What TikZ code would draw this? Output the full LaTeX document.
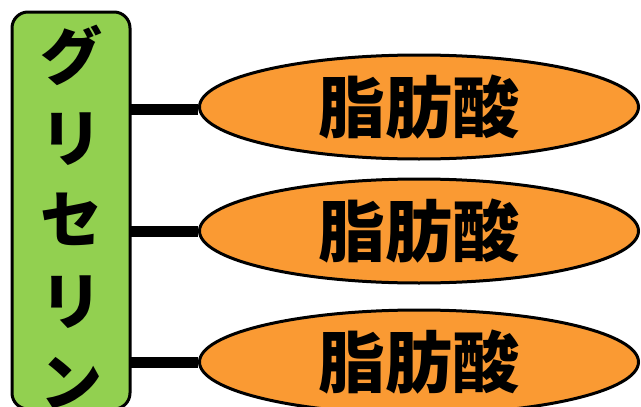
\documentclass[tikz,border=0pt]{standalone}
\usepackage{fontspec}
\newfontfamily\jp{Noto Sans CJK JP}
\usetikzlibrary{shapes.geometric,backgrounds}
\definecolor{glgreen}{RGB}{146,208,80}
\definecolor{faorange}{RGB}{250,154,51}
\tikzset{
  glybox/.style={draw=black, line width=3pt, fill=glgreen, rounded corners=16pt},
  fabox/.style={ellipse, draw=black, line width=3pt, fill=faorange, minimum width=439pt, minimum height=104pt, inner sep=0pt, font=\jp\bfseries\fontsize{67}{67}\selectfont},
  bond/.style={draw=black, line width=11pt}
}
\begin{document}
\begin{tikzpicture}[x=1pt,y=-1pt]
\useasboundingbox (0,0) rectangle (641,407);
\node[fabox] (f1) at (419,107) {脂肪酸};
\node[fabox] (f2) at (419,231) {脂肪酸};
\node[fabox] (f3) at (419,362) {脂肪酸};
\begin{scope}[on background layer]
\draw[glybox] (12,12) rectangle (130,409);
\coordinate (g1) at (130,109);
\coordinate (g2) at (130,231);
\coordinate (g3) at (130,362);
\draw[bond] (g1) -- (f1.west |- g1);
\draw[bond] (g2) -- (f2.west);
\draw[bond] (g3) -- (f3.west);
\end{scope}
\node[inner sep=0pt, align=center, font=\jp\bfseries\fontsize{62}{81.5}\selectfont] (gly) at (71,217) {グ\\リ\\セ\\リ\\ン};
\end{tikzpicture}
\end{document}
